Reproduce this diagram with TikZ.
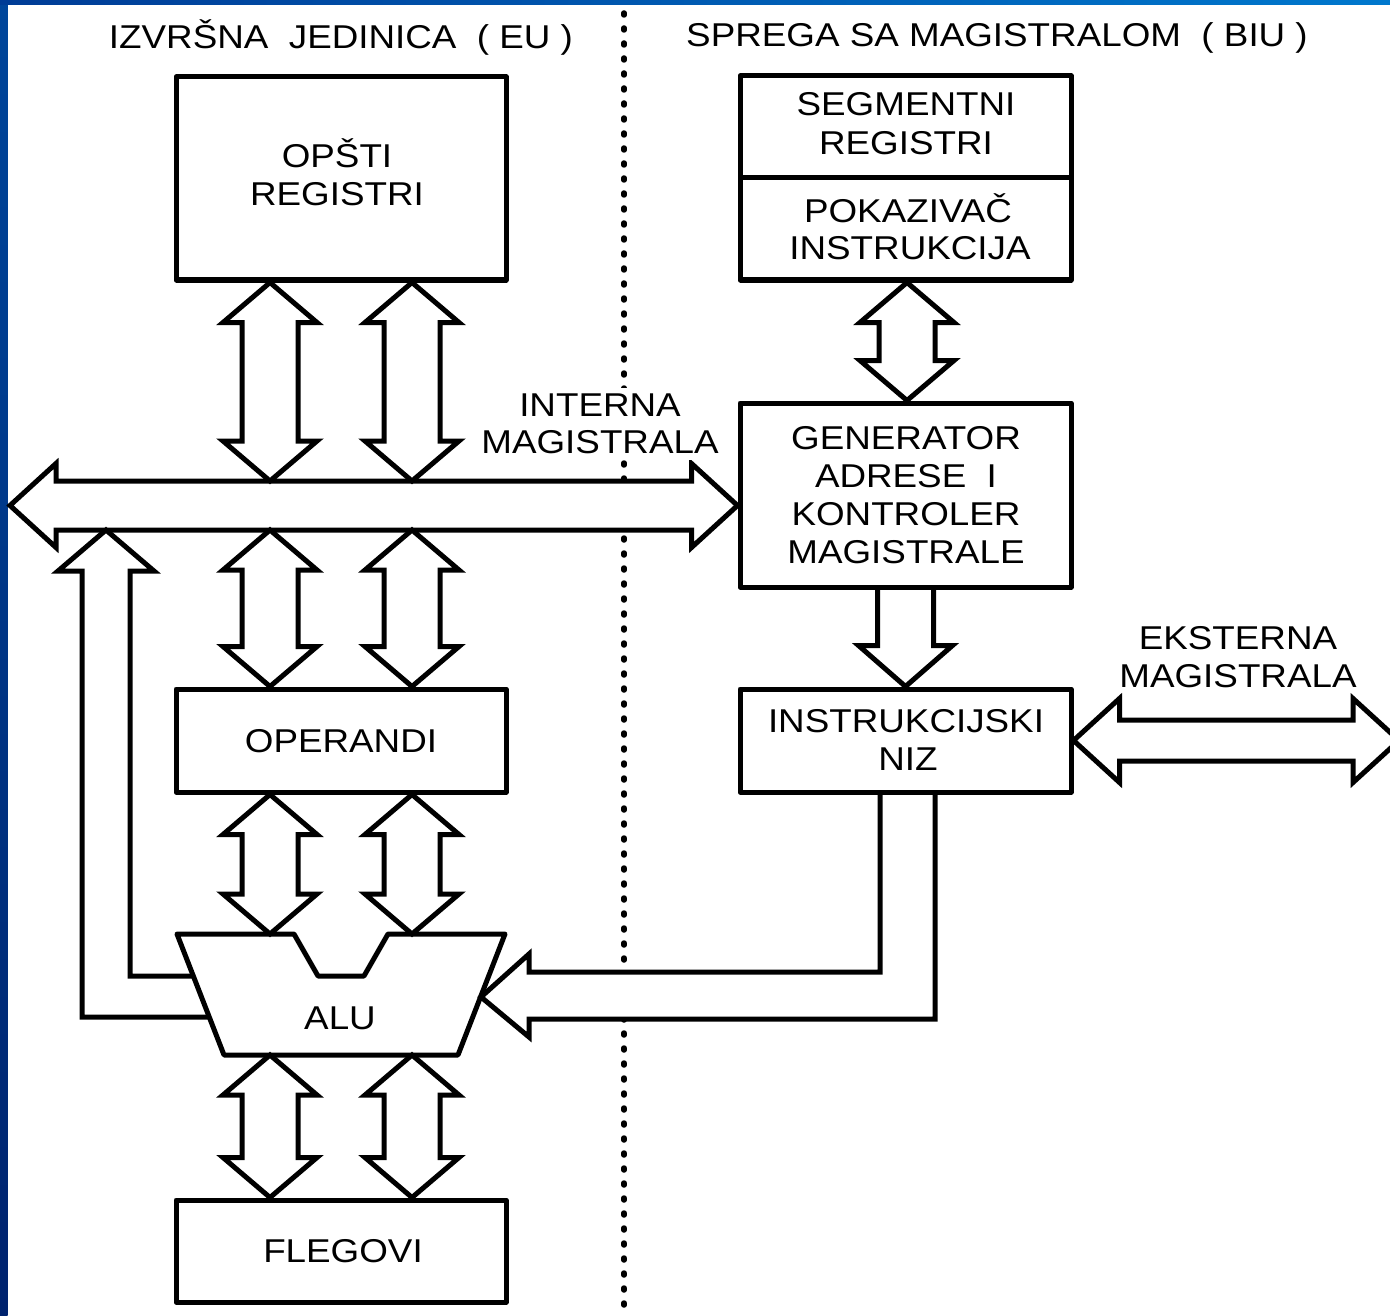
\documentclass[tikz,border=0pt]{standalone}
\usepackage{fontspec}
\setmainfont{Liberation Sans}[FakeStretch=1.115]
\usetikzlibrary{calc}
\definecolor{frameT}{RGB}{0,70,155}
\definecolor{frameM}{RGB}{0,108,202}
\definecolor{frameB}{RGB}{0,35,110}
\definecolor{frameL}{RGB}{0,60,150}
\definecolor{frameR}{RGB}{0,120,205}
\newcommand\vdarr[2]{%
  \draw[blk] let \p1=#1, \p2=#2 in
    (\x1,\y1) -- (\x1+47pt,\y1-40pt) -- (\x1+28pt,\y1-40pt) -- (\x1+28pt,\y2+40pt)
    -- (\x1+47pt,\y2+40pt) -- (\x2,\y2) -- (\x1-47pt,\y2+40pt) -- (\x1-28pt,\y2+40pt)
    -- (\x1-28pt,\y1-40pt) -- (\x1-47pt,\y1-40pt) -- cycle;}
\newcommand\hdarr[5]{%
  \draw[blk,fill=white] let \p1=#1, \p2=#2 in
    (\x1,\y1) -- (\x1+#3,\y1+#4) -- (\x1+#3,\y1+#5) -- (\x2-#3,\y1+#5) -- (\x2-#3,\y1+#4)
    -- (\x2,\y1) -- (\x2-#3,\y1-#4) -- (\x2-#3,\y1-#5) -- (\x1+#3,\y1-#5) -- (\x1+#3,\y1-#4) -- cycle;}
\begin{document}
\begin{tikzpicture}[x=1pt,y=-1pt,
  box/.style={draw,line width=5pt,rectangle,inner sep=0pt,line join=round},
  blk/.style={draw,line width=5pt,line join=miter,miter limit=6},
  lbl/.style={font=\fontsize{33}{38}\selectfont,anchor=base,inner sep=0pt},
  dotline/.style={line width=5.5pt,dash pattern=on 2pt off 13pt,line cap=round}]
\useasboundingbox (0,0) rectangle (1390,1316);
\clip (0,0) rectangle (1390,1316);
\fill[white] (0,0) rectangle (1390,1316);
\shade[top color=frameT,middle color=frameM,bottom color=frameB] (0,0) rectangle (7.5,1316);
\shade[left color=frameL,middle color=frameM,right color=frameR] (0,0) rectangle (1390,5);
% divider
\coordinate (dtop) at (624,13);
\coordinate (dbot) at (624,1316);
\draw[dotline] (dtop) -- (dbot);
% boxes
\node[box,minimum width=330pt,minimum height=203pt] (opsti) at (341,178.5) {};
\node[box,minimum width=331pt,minimum height=102pt] (seg) at (905.5,127) {};
\node[box,minimum width=331pt,minimum height=102pt] (pok) at (905.5,229) {};
\node[box,minimum width=331pt,minimum height=184pt] (gen) at (905.5,495) {};
\node[box,minimum width=331pt,minimum height=103pt] (niz) at (905.5,740.5) {};
\node[box,minimum width=330pt,minimum height=103pt] (oper) at (341,740.5) {};
\node[box,minimum width=330pt,minimum height=102pt] (fleg) at (341,1251) {};
% helper coordinates
\coordinate (c1) at (270,0);
\coordinate (c2) at (412,0);
\coordinate (c3) at (907,0);
\coordinate (c4) at (106,0);
\coordinate (busL) at (10,505.5);
\coordinate (busT) at (0,481);
\coordinate (busB) at (0,530);
\coordinate (extR) at (1399,740.5);
\coordinate (aluTL) at (177,934);
\coordinate (aluN1) at (294,934);
\coordinate (aluN2) at (318,976);
\coordinate (aluN3) at (364,976);
\coordinate (aluN4) at (388,934);
\coordinate (aluTR) at (505,934);
\coordinate (aluBR) at (458,1055);
\coordinate (aluBL) at (224,1055);
\coordinate (inA) at (880,0);
\coordinate (inB) at (935,0);
% internal bus
\hdarr{(busL)}{(gen.west |- busL)}{46pt}{42pt}{24.5pt}
% input from instruction queue to ALU (white fill, then outline)
\fill[white] ($(inA |- niz.south)+(0,3)$) -- (880,972) -- (529,972) -- (529,954) -- (481,997)
  -- (529,1037) -- (529,1019) -- (935,1019) -- ($(inB |- niz.south)+(0,3)$) -- cycle;
\draw[blk] (inA |- niz.south) -- (880,972) -- (529,972) -- (529,954) -- (481,997)
  -- (529,1037) -- (529,1019) -- (935,1019) -- (inB |- niz.south);
% external bus
\hdarr{(niz.east)}{(extR)}{46pt}{42pt}{20.5pt}
% labels with white background
\node[lbl,fill=white,inner xsep=3pt,inner ysep=6pt] (tint1) at (600,416.5) {INTERNA};
\node[lbl,fill=white,inner xsep=3pt,inner ysep=6pt] (tint2) at (600,453.5) {MAGISTRALA};
% vertical double arrows
\vdarr{(c1 |- opsti.south)}{(c1 |- busT)}
\vdarr{(c2 |- opsti.south)}{(c2 |- busT)}
\vdarr{(c1 |- busB)}{(c1 |- oper.north)}
\vdarr{(c2 |- busB)}{(c2 |- oper.north)}
\vdarr{(c1 |- oper.south)}{(c1 |- aluTL)}
\vdarr{(c2 |- oper.south)}{(c2 |- aluTL)}
\vdarr{(c1 |- aluBL)}{(c1 |- fleg.north)}
\vdarr{(c2 |- aluBL)}{(c2 |- fleg.north)}
\vdarr{(c3 |- pok.south)}{(c3 |- gen.north)}
% generator -> queue
\draw[blk] let \p1=(gen.south), \p2=(niz.north) in
  (\x1-28pt,\y1) -- (\x1-28pt,\y2+41pt) -- (\x1-47pt,\y2+41pt) -- (\x2,\y2)
  -- (\x1+47pt,\y2+41pt) -- (\x1+28pt,\y2+41pt) -- (\x1+28pt,\y1);
% ALU feedback to bus
\draw[blk] (193.3,976) -- (130,976) -- (130,571) -- (154,571) -- (c4 |- busB)
  -- (58,571) -- (82,571) -- (82,1017) -- (209.2,1017);
% ALU
\draw[box] (aluTL) -- (aluN1) -- (aluN2) -- (aluN3) -- (aluN4) -- (aluTR) -- (aluBR) -- (aluBL) -- cycle;
% texts
\node[lbl] (teu) at (341,48.5) {IZVRŠNA\ \ JEDINICA\ \ ( EU )};
\node[lbl] (tbiu) at (997,47) {SPREGA SA MAGISTRALOM\ \ ( BIU )};
\node[lbl] (top1) at (337,168) {OPŠTI};
\node[lbl] (top2) at (337,205.5) {REGISTRI};
\node[lbl] (tseg1) at (906,116) {SEGMENTNI};
\node[lbl] (tseg2) at (906,154.5) {REGISTRI};
\node[lbl] (tpok1) at (908,222.5) {POKAZIVAČ};
\node[lbl] (tpok2) at (910,259.5) {INSTRUKCIJA};
\node[lbl] (tgen1) at (906,449.5) {GENERATOR};
\node[lbl] (tgen2) at (906,487.5) {ADRESE\ \ I};
\node[lbl] (tgen3) at (906,525.5) {KONTROLER};
\node[lbl] (tgen4) at (906,563.5) {MAGISTRALE};
\node[lbl] (text1) at (1238,649.5) {EKSTERNA};
\node[lbl] (text2) at (1238,687.5) {MAGISTRALA};
\node[lbl] (tniz1) at (906,732.5) {INSTRUKCIJSKI};
\node[lbl] (tniz2) at (908,770.5) {NIZ};
\node[lbl] (toper) at (341,752.5) {OPERANDI};
\node[lbl] (talu) at (340,1029.5) {ALU};
\node[lbl] (tfleg) at (343,1262.5) {FLEGOVI};
\end{tikzpicture}
\end{document}
